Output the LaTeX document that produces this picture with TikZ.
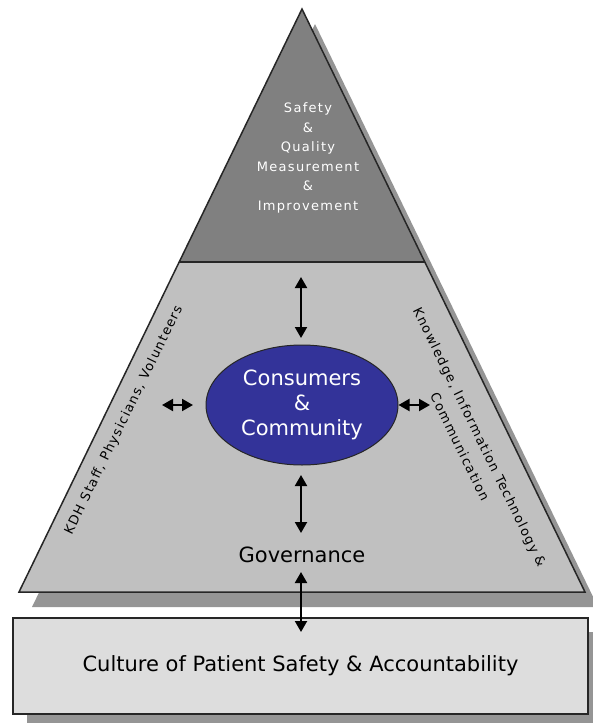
\documentclass[tikz,border=0pt]{standalone}
\usepackage{fontspec}
\setmainfont{DejaVu Sans}
\newfontfamily\smallfont[LetterSpace=10]{DejaVu Sans}
\usetikzlibrary{positioning,arrows.meta,shapes.geometric}
\definecolor{apexgray}{HTML}{808080}
\definecolor{basegray}{HTML}{C0C0C0}
\definecolor{shadowgray}{HTML}{959595}
\definecolor{boxgray}{HTML}{DDDDDD}
\definecolor{consumerblue}{HTML}{333399}

\begin{document}
\begin{tikzpicture}[x=1pt, y=-1pt,
edge/.style={draw=black!85, line width=1.5pt},
shade/.style={fill=shadowgray, draw=none},
twoway/.style={arrows={Triangle[width=12pt,length=11pt]-Triangle[width=12pt,length=11pt]}, line width=2pt},
tiny/.style={font=\smallfont\fontsize{13}{22}\selectfont, align=center, inner sep=0pt},
big/.style={font=\fontsize{21}{25}\selectfont, align=center, inner sep=0pt}]

\useasboundingbox (0,0) rectangle (593,723);

\coordinate (tip) at (302,9);
\coordinate (bl) at (19,592);
\coordinate (br) at (585,592);
\coordinate (ml) at (179.2,262);
\coordinate (mr) at (424.8,262);

\fill[shade] ([shift={(13,15)}]tip) -- ([shift={(13,15)}]bl) -- ([shift={(13,15)}]br) -- cycle;
\fill[shade] (27,632) rectangle (602,728);

\fill[basegray] (ml) -- (bl) -- (br) -- (mr) -- cycle;
\fill[apexgray] (tip) -- (ml) -- (mr) -- cycle;
\draw[edge] (tip) -- (bl) -- (br) -- cycle;
\draw[edge] (ml) -- (mr);

\node[edge, fill=boxgray, big, minimum width=575pt, minimum height=96pt] (culture) at (300.5,666) {Culture of Patient Safety \& Accountability};

\node[ellipse, draw=black!85, line width=1pt, fill=consumerblue, text=white, big, minimum width=192pt, minimum height=120pt] (cc) at (302,405) {Consumers\\\&\\Community};
\node[big] (gov) [below=81pt of cc] {Governance};

\node[tiny, text=white, font=\smallfont\fontsize{13}{19.5}\selectfont] (sq) at (308,158) {Safety\\\&\\Quality\\Measurement\\\&\\Improvement};
\node[tiny, rotate=64] (staff) at (124,420) {KDH Staff, Physicians, Volunteers};
\node[tiny, rotate=-64] (know) at (470,442) {Knowledge, Information Technology \&\\Communication};

\coordinate (up1) at (301,277);
\coordinate (up2) at (301,338);
\coordinate (lt1) at (162,405);
\coordinate (lt2) at (193,405);
\coordinate (rt2) at (430,405);
\coordinate (dn1) at (301,475);
\coordinate (dn2) at (301,533);
\coordinate (ft1) at (301,572);
\coordinate (ft2) at (301,632);

\draw[twoway] (up1) -- (up2);
\draw[twoway] (lt1) -- (lt2);
\draw[twoway] (cc.east) -- (rt2);
\draw[twoway] (dn1) -- (dn2);
\draw[twoway] (ft1) -- (ft2);
\end{tikzpicture}
\end{document}
